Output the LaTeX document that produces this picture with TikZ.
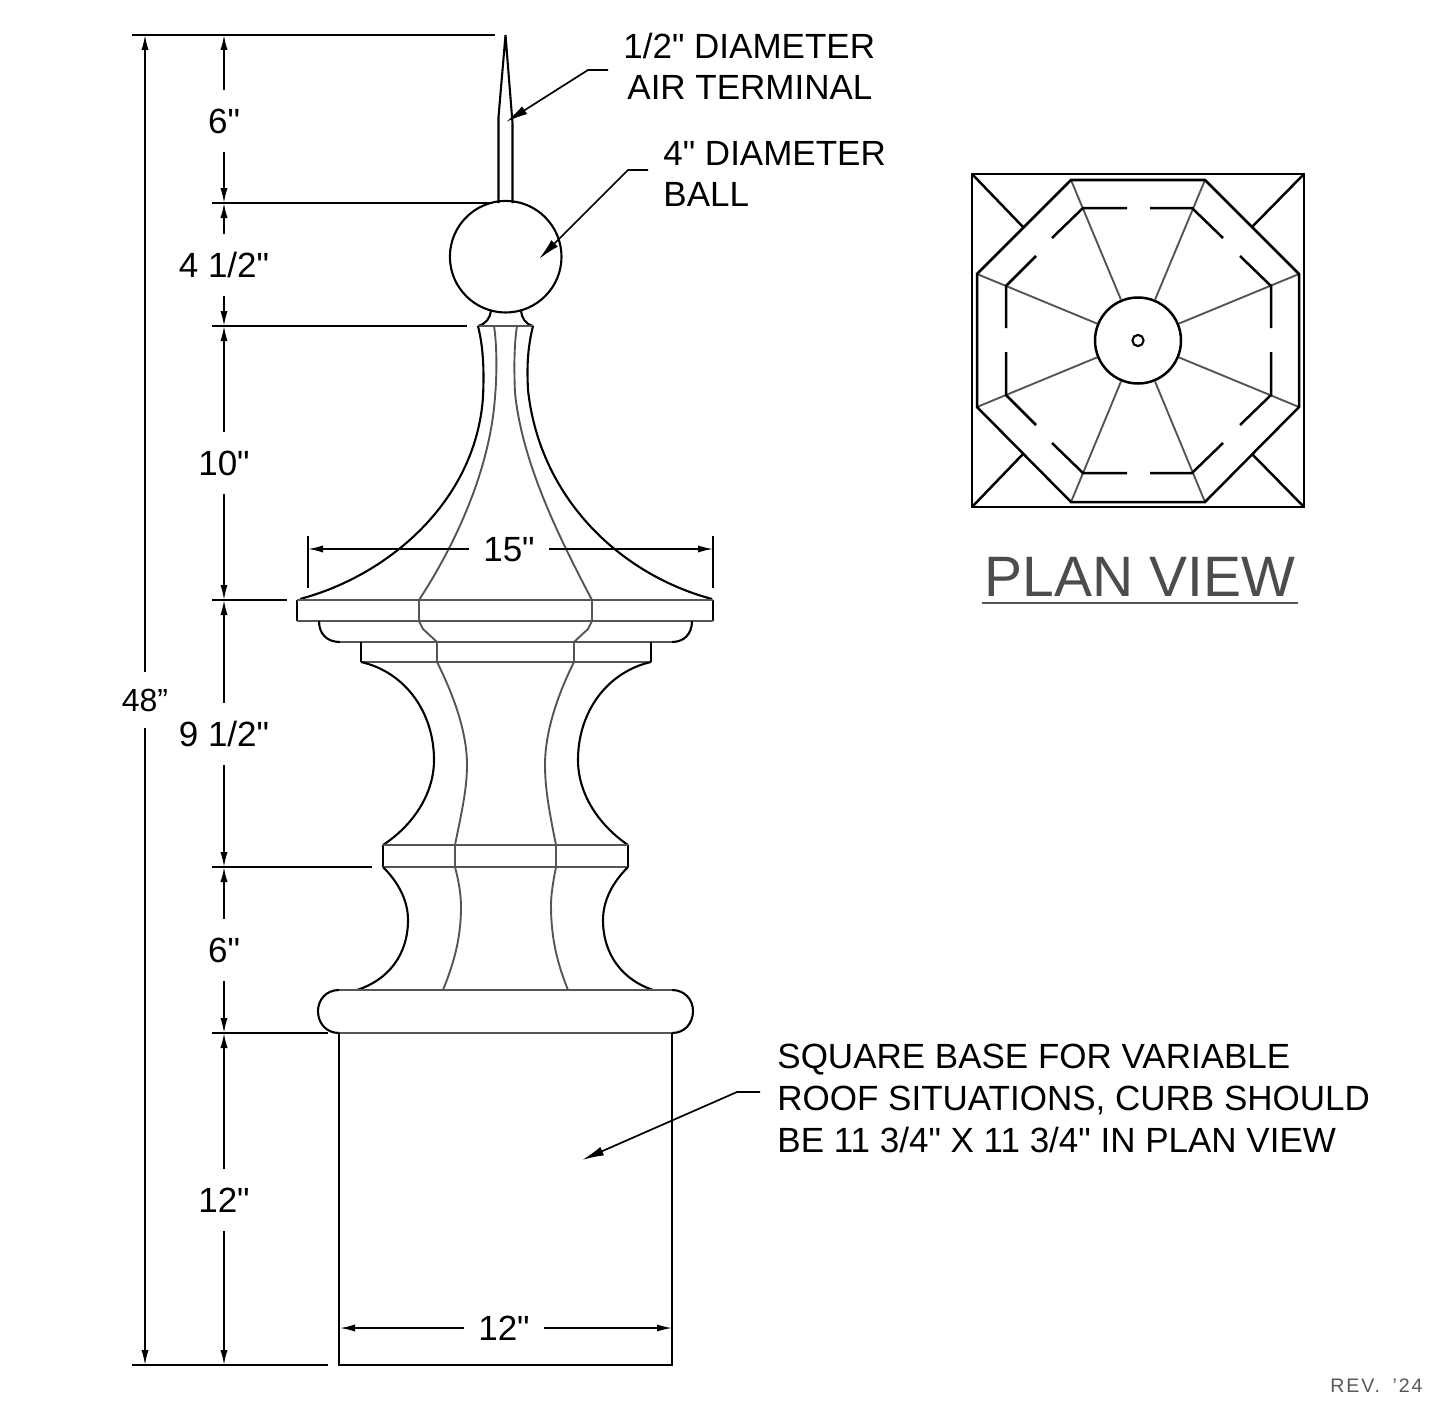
\documentclass[tikz,border=0pt]{standalone}
\usepackage{fontspec}
\setmainfont{Liberation Sans}
\newfontfamily\cadfont{Liberation Sans}
\newfontfamily\revfont[LetterSpace=10]{Liberation Sans}
\usepackage{xcolor}
\usetikzlibrary{arrows.meta,calc}
\usetikzlibrary{positioning,shapes,arrows}
\definecolor{ribgray}{HTML}{555555}
\tikzset{
    outline/.style={black, line width=1.05pt},
    rib/.style={ribgray, line width=0.95pt},
    planline/.style={black, line width=1.25pt},
    dimline/.style={black, line width=0.8pt, -{Latex[length=7.5pt,width=3.6pt]}},
    extline/.style={black, line width=0.8pt},
    leader/.style={black, line width=0.85pt, -{Latex[length=11pt,width=4.6pt]}},
    dimtext/.style={font=\cadfont\fontsize{17.5}{20}\selectfont, text height=12.5pt, text depth=0pt, inner xsep=7pt, inner ysep=9pt},
    notetext/.style={font=\cadfont\fontsize{17.5}{20}\selectfont, text height=12.5pt, text depth=0pt, inner sep=0pt, anchor=west}
}
\begin{document}
\begin{tikzpicture}[x=0.5pt, y=-0.5pt]
    \useasboundingbox (0,0) rectangle (1430,1402);

    % Spire and ball
    \node[draw, outline, circle, minimum size=55.8pt, inner sep=0pt] (ball) at (505.7,256.7) {};
    \draw[outline] (498.5,203) -- (498.5,117) -- (505.5,35) -- (512.5,123) -- (512.5,203);
    \draw[outline] (491,311) .. controls (490,318) and (486,324) .. (478,326);
    \draw[outline] (521,311) .. controls (522,318) and (525,324) .. (533,326);
    \draw[rib] (478,326) -- (533,326);

    % Upper body
    \draw[outline] (478,326) .. controls (484,350) and (484,375) .. (483,397) .. controls (476,500) and (390,575) .. (300,599);
    \draw[outline] (533,326) .. controls (527,350) and (527,370) .. (528,390) .. controls (540,500) and (622,575) .. (712,599);
    \draw[rib] (494,326) .. controls (497,345) and (497,375) .. (495,397) .. controls (490,470) and (455,545) .. (419,600);
    \draw[rib] (517,326) .. controls (514,345) and (514,370) .. (515,393) .. controls (522,460) and (555,530) .. (592,600);

    % Flange and collar
    \draw[outline] (297,600) -- (297,621);
    \draw[outline] (713,600) -- (713,621);
    \draw[rib] (297,600) -- (713,600);
    \draw[rib] (297,621) -- (713,621);
    \draw[rib] (419,600) -- (419,621) -- (423,629) -- (437,642) -- (437,662);
    \draw[rib] (592,600) -- (592,621) -- (588,629) -- (574,642) -- (574,662);
    \draw[outline] (319,621) .. controls (319,634) and (327,642) .. (340,642);
    \draw[outline] (692,621) .. controls (692,634) and (684,642) .. (672,642);
    \draw[rib] (340,642) -- (672,642);
    \draw[outline] (361,642) -- (361,662);
    \draw[outline] (651,642) -- (651,662);
    \draw[rib] (361,662) -- (651,662);

    % Upper waist
    \draw[outline] (361,662) .. controls (405,672) and (434,712) .. (434,760) .. controls (434,795) and (412,826) .. (383,845);
    \draw[outline] (651,662) .. controls (607,672) and (578,712) .. (578,760) .. controls (578,795) and (600,826) .. (628,845);
    \draw[rib] (437,662) .. controls (452,692) and (467,730) .. (467,765) .. controls (467,790) and (461,815) .. (455,845);
    \draw[rib] (574,662) .. controls (559,692) and (545,730) .. (545,765) .. controls (545,790) and (550,815) .. (556,845);

    % Band
    \draw[outline] (383,845) -- (383,867);
    \draw[outline] (628,845) -- (628,867);
    \draw[rib] (383,845) -- (628,845);
    \draw[rib] (383,867) -- (628,867);
    \draw[rib] (455,845) -- (455,867);
    \draw[rib] (556,845) -- (556,867);

    % Lower waist
    \draw[outline] (383,867) .. controls (398,882) and (408,900) .. (408,920) .. controls (408,955) and (388,980) .. (357,990);
    \draw[outline] (628,867) .. controls (613,882) and (603,900) .. (603,920) .. controls (603,955) and (623,980) .. (653,990);
    \draw[rib] (455,867) .. controls (459,882) and (461,895) .. (461,907) .. controls (461,940) and (453,965) .. (443,990);
    \draw[rib] (556,867) .. controls (553,882) and (551,895) .. (551,905) .. controls (551,940) and (558,965) .. (568,990);

    % Torus and base
    \draw[rib] (339,990) -- (672,990);
    \draw[rib] (339,1033) -- (672,1033);
    \draw[outline] (339,990) .. controls (326,990) and (318,1000) .. (318,1011) .. controls (318,1023) and (326,1033) .. (339,1033);
    \draw[outline] (672,990) .. controls (685,990) and (693,1000) .. (693,1011) .. controls (693,1023) and (685,1033) .. (672,1033);
    \draw[outline] (339,1033) -- (339,1365) -- (672,1365) -- (672,1033);

    % Extension lines
    \draw[extline] (132,35) -- (495,35);
    \draw[extline] (212,203) -- (490,203);
    \draw[extline] (212,326) -- (467,326);
    \draw[extline] (212,600) -- (287,600);
    \draw[extline] (212,867) -- (372,867);
    \draw[extline] (212,1033) -- (328,1033);
    \draw[extline] (132,1365) -- (328,1365);
    \draw[extline] (308,536) -- (308,588);
    \draw[extline] (713,536) -- (713,588);

    % Vertical dimensions
    \foreach \nm/\ypos/\txt/\ya/\yb in {
        six/121/{6"}/35/203,
        fourhalf/265/{4 1/2"}/203/326,
        ten/463/{10"}/326/600,
        ninehalf/734/{9 1/2"}/600/867,
        sixlow/950/{6"}/867/1033,
        twelve/1200/{12"}/1033/1365}{
        \node[dimtext] (\nm) at (224,\ypos) {\txt};
        \coordinate (\nm a) at (224,\ya);
        \coordinate (\nm b) at (224,\yb);
        \draw[dimline] (\nm) -- (\nm a);
        \draw[dimline] (\nm) -- (\nm b);
    }

    % Overall height
    \node[font=\fontsize{16}{18}\selectfont, text height=11.5pt, text depth=0pt, inner sep=8pt] (overall) at (145,700) {48"};
    \coordinate (overalltop) at (145,35);
    \coordinate (overallbot) at (145,1365);
    \draw[dimline] (overall) -- (overalltop);
    \draw[dimline] (overall) -- (overallbot);

    % Horizontal dimensions
    \node[dimtext] (flangew) at (509,549) {15"};
    \coordinate (flangel) at (308,549);
    \coordinate (flanger) at (713,549);
    \draw[dimline] (flangew) -- (flangel);
    \draw[dimline] (flangew) -- (flanger);
    \node[dimtext] (basew) at (504,1328) {12"};
    \coordinate (basel) at (340,1328);
    \coordinate (baser) at (672,1328);
    \draw[dimline] (basew) -- (basel);
    \draw[dimline] (basew) -- (baser);

    % Notes
    \node[notetext] (airtxt) at (623,46) {1/2" DIAMETER};
    \node[notetext] (airtxtb) at (627,87) {AIR TERMINAL};
    \node[notetext] (balltxt) at (663,153) {4" DIAMETER};
    \node[notetext] (balltxtb) at (663,194) {BALL};
    \node[notetext] (basetxt) at (777,1056) {SQUARE BASE FOR VARIABLE};
    \node[notetext] (basetxtb) at (777,1098) {ROOF SITUATIONS, CURB SHOULD};
    \node[notetext] (basetxtc) at (777,1140) {BE 11 3/4" X 11 3/4" IN PLAN VIEW};
    \coordinate (airtip) at (506,122);
    \coordinate (balltip) at (539,259);
    \coordinate (basetip) at (582,1160);
    \draw[leader] (608,70) -- (588,70) -- (airtip);
    \draw[leader] (648,170) -- (628,170) -- (balltip);
    \draw[leader] (760,1092) -- (737,1092) -- (basetip);

    % Plan view
    \draw[planline] (972,174) rectangle (1304,507);
    \node[draw, planline, circle, minimum size=43pt, inner sep=0pt] (hub) at (1138,340.5) {};
    \node[draw, outline, circle, minimum size=5.6pt, inner sep=0pt] (pin) at (1138,340.5) {};
    \foreach \cx/\cy in {1071/180, 1205/180, 1299/274, 1299/407, 1205/502, 1071/502, 977/407, 977/274}
        \draw[rib] (\cx,\cy) -- (hub);
    \draw[planline] (1071,180) -- (1205,180) -- (1299,274) -- (1299,407) -- (1205,502) -- (1071,502) -- (977,407) -- (977,274) -- cycle;
    \draw[planline] (972,174) -- (1023,227);
    \draw[planline] (1304,174) -- (1252,227);
    \draw[planline] (972,507) -- (1023,454);
    \draw[planline] (1304,507) -- (1252,454);
    % hidden edge of the base
    \foreach \pa/\pb/\pc/\pd/\pe/\pf in {
        1127/208/1083/208/1052/238,
        1150/208/1192/208/1223/238,
        1240/256/1271/286/1271/328,
        1271/352/1271/395/1240/425,
        1223/443/1192/473/1150/473,
        1127/473/1083/473/1052/443,
        1036/425/1006/395/1006/352,
        1006/328/1006/286/1036/256}
        \draw[planline] (\pa,\pb) -- (\pc,\pd) -- (\pe,\pf);

    \node[text=black!70, font=\fontsize{28.5}{30}\selectfont, text height=20.4pt, text depth=0pt, inner sep=0pt] (plantxt) at (1140,576) {PLAN VIEW};
    \draw[ribgray, line width=0.8pt] (982,603) -- (1298,603);
    \node[text=black!65, font=\revfont\fontsize{9.8}{11}\selectfont, text height=7pt, text depth=0pt, inner sep=0pt, anchor=east] (revtxt) at (1423,1385) {REV.\hspace{2.5pt} ’24};
\end{tikzpicture}
\end{document}
